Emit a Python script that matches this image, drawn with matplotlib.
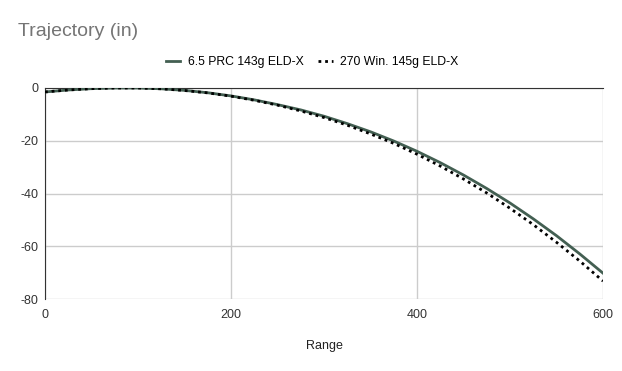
import matplotlib.pyplot as plt

plt.rcParams['font.family'] = ['Liberation Sans', 'DejaVu Sans']
plt.rcParams['axes.unicode_minus'] = False

# range in yards, drop in inches (every 25 yd)
ranges = [0, 25, 50, 75, 100, 125, 150, 175, 200, 225, 250, 275, 300,
          325, 350, 375, 400, 425, 450, 475, 500, 525, 550, 575, 600]
prc_65 = [-1.5, -0.75, -0.25, 0.0, 0.0, -0.3, -0.9, -1.8, -3.0, -4.5, -6.3, -8.3, -10.7,
          -13.5, -16.6, -20.1, -24.0, -28.3, -33.0, -38.1, -43.6, -49.6, -56.0, -62.9, -70.2]
win_270 = [-1.5, -0.75, -0.25, 0.0, 0.0, -0.3, -0.95, -1.85, -3.1, -4.65, -6.5, -8.7, -11.2,
           -14.1, -17.4, -21.0, -25.1, -29.6, -34.5, -39.8, -45.6, -51.8, -58.5, -65.6, -73.2]

series = ["6.5 PRC 143g ELD-X", "270 Win. 145g ELD-X"]

fig = plt.figure(figsize=(6.22, 3.71), dpi=100)
ax = fig.add_axes([45 / 622, 1 - 299 / 371, 558 / 622, 211 / 371])

ax.plot(ranges, prc_65, color="#435f52", lw=2, label=series[0], zorder=3)
ax.plot(ranges, win_270, color="black", lw=2, linestyle=(0, (1, 1.4)),
        label=series[1], zorder=4)

ax.set_xlim(0, 600)
ax.set_ylim(-80, 0)
ax.set_xticks([0, 200, 400, 600])
ax.set_yticks([0, -20, -40, -60, -80])
ax.grid(True, color="#cccccc", lw=1)
ax.set_axisbelow(True)
for s in ("right", "bottom"):
    ax.spines[s].set_visible(False)
ax.spines["top"].set_color("#333333")
ax.spines["left"].set_color("#333333")
ax.tick_params(length=0, labelsize=9, colors="#333333", pad=5)
ax.tick_params(axis="x", pad=7)

ax.set_xlabel("Range", fontsize=9, color="#222222", labelpad=14)

fig.text(18 / 622, 1 - 32 / 371, "Trajectory (in)", fontsize=14,
         color="#757575", va="center", ha="left")

fig.legend(loc="center", bbox_to_anchor=(312 / 622, 1 - 62 / 371), ncol=2,
           frameon=False, fontsize=8.8, handlelength=1.2, columnspacing=1.2,
           handletextpad=0.6)

fig.savefig("out.png", dpi=100)
